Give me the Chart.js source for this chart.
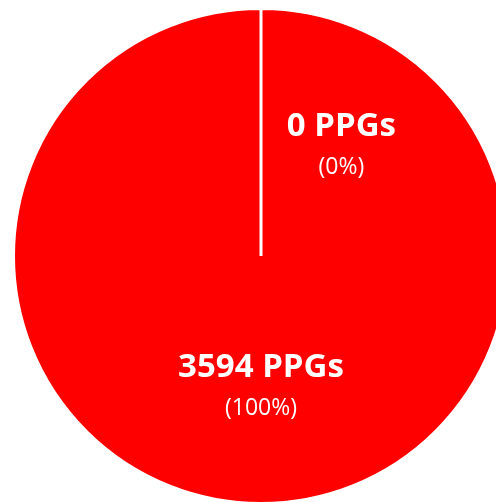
<!DOCTYPE html>
<html><head><meta charset="utf-8">
<script src="https://cdn.jsdelivr.net/npm/chart.js@4/dist/chart.umd.min.js"></script>
<style>
html,body{margin:0;padding:0;overflow:hidden;background:#fff;width:496px;height:502px}
#wrap{position:absolute;left:0;top:0;width:522px;height:512px}
</style></head>
<body><div id="wrap"><canvas id="c" width="522" height="512"></canvas></div>
<script>
const categories = ['Group A', 'Group B'];
const values = [0, 3594];
const unitLabel = 'PPGs';
const sliceColors = ['#FF0000', '#FF0000'];

const total = values.reduce((a, b) => a + b, 0);
// label placement relative to slice geometry (fraction of radius, angle shift in degrees)
const labelRadiusFrac = [0.616, 0.452];
const labelAngleShift = [31.8, 0];

const labelPlugin = {
  id: 'sliceLabels',
  afterDatasetsDraw(chart) {
    const ctx = chart.ctx;
    const meta = chart.getDatasetMeta(0);
    meta.data.forEach((arc, i) => {
      const p = arc.getProps(['x', 'y', 'startAngle', 'endAngle', 'outerRadius'], true);
      const mid = (p.startAngle + p.endAngle) / 2 + labelAngleShift[i] * Math.PI / 180;
      const r = p.outerRadius * labelRadiusFrac[i];
      const x = p.x + Math.cos(mid) * r;
      const y = p.y + Math.sin(mid) * r;
      const pct = Math.round(values[i] / total * 100) + '%';
      ctx.save();
      ctx.fillStyle = '#FFFFFF';
      ctx.textAlign = 'center';
      ctx.textBaseline = 'middle';
      ctx.font = 'bold 33px "Open Sans"';
      ctx.fillText(values[i] + ' ' + unitLabel, x, y);
      ctx.font = '23px "Open Sans"';
      ctx.fillText('(' + pct + ')', x, y + 41);
      ctx.restore();
    });
  }
};

new Chart(document.getElementById('c'), {
  type: 'pie',
  data: {
    labels: categories,
    datasets: [{
      data: values,
      backgroundColor: sliceColors,
      borderColor: '#FFFFFF',
      borderWidth: [0, 3],
      borderAlign: 'center'
    }]
  },
  options: {
    responsive: false,
    animation: false,
    layout: { padding: 7 },
    plugins: { legend: { display: false }, tooltip: { enabled: false } }
  },
  plugins: [labelPlugin]
});
</script>
</body></html>
